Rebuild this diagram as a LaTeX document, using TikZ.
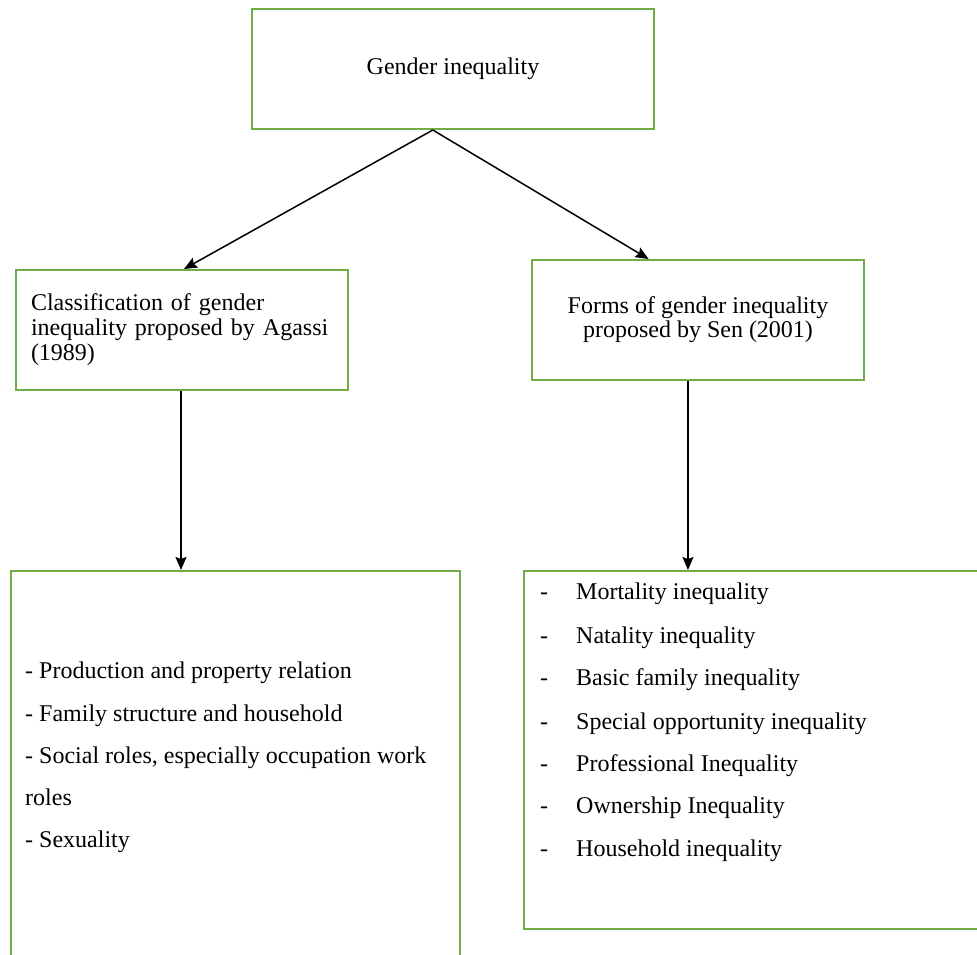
\documentclass[tikz,border=0pt]{standalone}
\usepackage{fontspec}
\setmainfont{Liberation Serif}
\usetikzlibrary{calc,arrows.meta}
\definecolor{boxgreen}{RGB}{112,173,71}
\begin{document}
\begin{tikzpicture}[x=1pt,y=-1pt,
  box/.style={draw=boxgreen,line width=2pt,rectangle,inner sep=0pt,anchor=north west},
  bodyfont/.style={font=\fontsize{24}{25}\selectfont},
  item/.style={bodyfont,anchor=base west,inner sep=0pt},
  link/.style={-{Stealth[length=13pt,width=11pt,inset=2pt]},line width=1.5pt,black}]
\clip (0,0) rectangle (977,954);
\fill[white] (0,0) rectangle (977,954);

% boxes
\node[box,bodyfont,minimum width=402pt,minimum height=120pt] (top) at (251,8) {Gender inequality};
\node[box,bodyfont,minimum width=332pt,minimum height=120pt,
      text width=302pt,inner xsep=15pt,align=left] (mleft) at (15,269)
  {Classification of gender\\inequality proposed by Agassi\\(1989)};
\node[box,font=\fontsize{24}{24}\selectfont,minimum width=332pt,minimum height=120pt,
      align=center] (mright) at (531,259)
  {Forms of gender inequality\\proposed by Sen (2001)};
\node[box,minimum width=449pt,minimum height=420pt] (bleft) at (10,570) {};
\node[box,minimum width=480pt,minimum height=358pt] (bright) at (523,570) {};

% Agassi list
\node[item] (a1) at (25,678) {- Production and property relation};
\node[item] (a2) at (25,721) {- Family structure and household};
\node[item] (a3) at (25,763) {- Social roles, especially occupation work};
\node[item] (a4) at (25,805) {roles};
\node[item] (a5) at (25,847) {- Sexuality};

% Sen list
\foreach \y/\t [count=\i] in {599/Mortality inequality,643/Natality inequality,
    685/Basic family inequality,729/Special opportunity inequality,
    771/Professional Inequality,813/Ownership Inequality,856/Household inequality}{
  \node[item] (d\i) at (540,\y) {-};
  \node[item] (s\i) at (576,\y) {\t};
}

% connectors
\coordinate (tp) at ($(top.south west)!0.45!(top.south east)$);
\coordinate (lt) at ($(mleft.north west)!0.506!(mleft.north east)$);
\coordinate (rt) at ($(mright.north west)!0.352!(mright.north east)$);
\coordinate (lb) at ($(mleft.south west)!0.497!(mleft.south east)$);
\coordinate (rb) at ($(mright.south west)!0.47!(mright.south east)$);
\draw[link] (tp) -- (lt);
\draw[link] (tp) -- (rt);
\draw[link] (lb) -- (lb |- bleft.north);
\draw[link] (rb) -- (rb |- bright.north);
\end{tikzpicture}
\end{document}
